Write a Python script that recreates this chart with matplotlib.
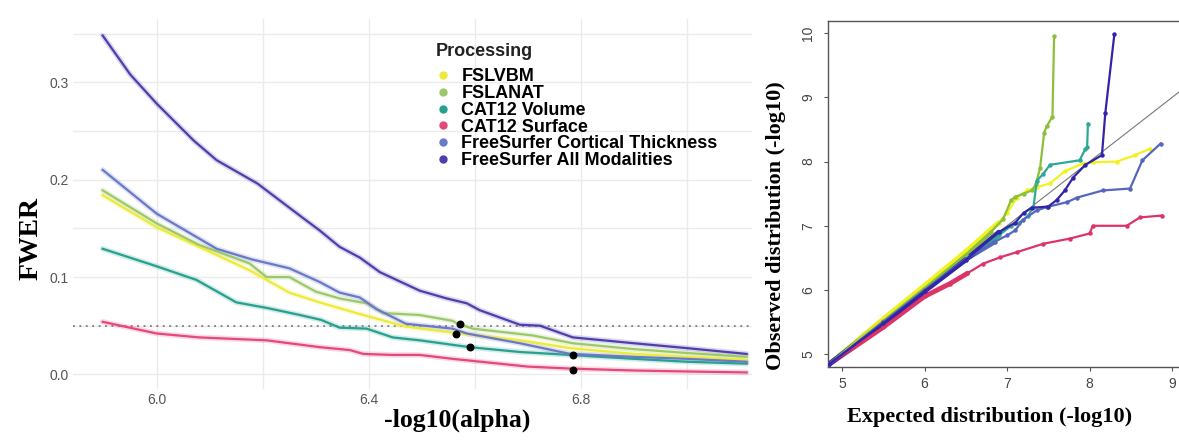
import matplotlib
matplotlib.use("Agg")
import matplotlib.pyplot as plt
from matplotlib.lines import Line2D

# ---------------- data: left panel (FWER vs -log10(alpha)) ----------------
names = ["FSLVBM", "FSLANAT", "CAT12 Volume", "CAT12 Surface",
         "FreeSurfer Cortical Thickness", "FreeSurfer All Modalities"]
colors = ["#ECEA3A", "#9CC86A", "#26A08F", "#E4487C", "#6A78C8", "#4E3EAC"]

vbm_x = [5.898, 6.0, 6.08, 6.175, 6.25, 6.307, 6.345, 6.383, 6.47, 6.558, 6.685, 6.78, 6.9, 7.0, 7.113]
vbm_y = [0.184, 0.151, 0.131, 0.107, 0.084, 0.074, 0.068, 0.062, 0.049, 0.043, 0.035, 0.027, 0.021, 0.018, 0.015]

anat_x = [5.898, 6.0, 6.08, 6.175, 6.207, 6.25, 6.30, 6.345, 6.396, 6.427, 6.496, 6.558, 6.568, 6.596, 6.709, 6.785, 6.9, 7.0, 7.113]
anat_y = [0.189, 0.155, 0.133, 0.114, 0.100, 0.100, 0.085, 0.078, 0.073, 0.063, 0.061, 0.055, 0.052, 0.047, 0.040, 0.032, 0.026, 0.022, 0.018]

vol_x = [5.898, 6.0, 6.075, 6.15, 6.21, 6.27, 6.31, 6.345, 6.396, 6.445, 6.496, 6.59, 6.685, 6.78, 6.9, 7.0, 7.113]
vol_y = [0.129, 0.111, 0.097, 0.074, 0.068, 0.061, 0.056, 0.048, 0.047, 0.038, 0.035, 0.028, 0.023, 0.020, 0.016, 0.013, 0.011]

surf_x = [5.898, 6.0, 6.08, 6.207, 6.307, 6.364, 6.39, 6.445, 6.496, 6.558, 6.70, 6.78, 6.9, 7.0, 7.113]
surf_y = [0.054, 0.042, 0.038, 0.035, 0.028, 0.025, 0.021, 0.020, 0.020, 0.016, 0.008, 0.006, 0.004, 0.003, 0.002]

ct_x = [5.898, 6.0, 6.113, 6.18, 6.25, 6.307, 6.345, 6.383, 6.415, 6.47, 6.558, 6.585, 6.685, 6.78, 6.9, 7.0, 7.113]
ct_y = [0.210, 0.165, 0.129, 0.118, 0.109, 0.095, 0.084, 0.079, 0.067, 0.052, 0.047, 0.042, 0.032, 0.021, 0.018, 0.016, 0.013]

all_x = [5.898, 5.95, 6.0, 6.07, 6.113, 6.19, 6.275, 6.307, 6.345, 6.383, 6.421, 6.496, 6.547, 6.585, 6.609, 6.685, 6.723, 6.785, 6.9, 7.0, 7.113]
all_y = [0.348, 0.308, 0.278, 0.240, 0.220, 0.196, 0.161, 0.148, 0.131, 0.120, 0.105, 0.086, 0.078, 0.073, 0.066, 0.051, 0.050, 0.038, 0.032, 0.027, 0.021]

# points where FWER crosses the threshold
cross_x = [6.572, 6.564, 6.591, 6.785, 6.785]
cross_y = [0.052, 0.042, 0.028, 0.020, 0.005]
threshold = 0.05

# ---------------- data: right panel (QQ plot) ----------------
q_vbm_x = [4.84, 5.5, 6.0, 6.5, 6.9, 7.0, 7.12, 7.24, 7.36, 7.52, 7.7, 7.92, 8.04, 8.33, 8.55, 8.73]
q_vbm_y = [4.84, 5.55, 6.07, 6.6, 7.05, 7.2, 7.44, 7.55, 7.6, 7.66, 7.85, 7.97, 7.99, 8.0, 8.1, 8.2]

q_anat_x = [4.84, 5.5, 6.0, 6.5, 6.8, 6.95, 7.05, 7.1, 7.2, 7.3, 7.35, 7.4, 7.45, 7.48, 7.55, 7.57]
q_anat_y = [4.84, 5.52, 6.03, 6.55, 6.9, 7.1, 7.4, 7.45, 7.5, 7.55, 7.65, 7.9, 8.45, 8.55, 8.7, 9.95]

q_vol_x = [4.84, 5.5, 6.0, 6.5, 6.9, 7.05, 7.15, 7.25, 7.32, 7.36, 7.44, 7.52, 7.88, 7.95, 7.97, 7.98]
q_vol_y = [4.84, 5.5, 6.0, 6.48, 6.85, 7.0, 7.05, 7.15, 7.29, 7.70, 7.81, 7.95, 8.02, 8.2, 8.22, 8.59]

q_surf_x = [4.84, 5.5, 6.0, 6.31, 6.52, 6.71, 6.92, 7.12, 7.44, 7.76, 8.0, 8.04, 8.45, 8.61, 8.88]
q_surf_y = [4.84, 5.42, 5.9, 6.10, 6.26, 6.41, 6.51, 6.59, 6.72, 6.80, 6.88, 7.0, 7.0, 7.13, 7.16]

q_ct_x = [4.84, 5.5, 6.0, 6.5, 6.85, 7.0, 7.10, 7.19, 7.36, 7.48, 7.73, 7.85, 8.16, 8.49, 8.64, 8.86]
q_ct_y = [4.84, 5.5, 6.0, 6.48, 6.75, 6.85, 6.93, 7.09, 7.24, 7.29, 7.37, 7.44, 7.55, 7.58, 8.02, 8.28]

q_all_x = [4.84, 5.5, 6.0, 6.5, 6.9, 7.1, 7.2, 7.3, 7.5, 7.6, 7.7, 7.8, 7.95, 8.15, 8.19, 8.30]
q_all_y = [4.84, 5.48, 5.98, 6.47, 6.9, 7.05, 7.2, 7.28, 7.3, 7.4, 7.55, 7.75, 7.95, 8.1, 8.75, 9.98]

q_colors = ["#F2F21E", "#8CBF3A", "#2FA896", "#DD3468", "#5566BE", "#3424A8"]
dense_until = 6.5   # below this the QQ points pile up into a thick band

left_series = [(vbm_x, vbm_y), (anat_x, anat_y), (vol_x, vol_y),
               (surf_x, surf_y), (ct_x, ct_y), (all_x, all_y)]
right_series = [(q_vbm_x, q_vbm_y), (q_anat_x, q_anat_y), (q_vol_x, q_vol_y),
                (q_surf_x, q_surf_y), (q_ct_x, q_ct_y), (q_all_x, q_all_y)]

serif = "Liberation Serif"
sans = "Liberation Sans"

W, H = 1179, 441
fig = plt.figure(figsize=(W / 100, H / 100), dpi=100)

# ---------------- left panel ----------------
ax = fig.add_axes([73 / W, 1 - 389 / H, (752 - 73) / W, (389 - 19) / H])
ax.set_xlim(5.842, 7.123)
ax.set_ylim(-0.015, 0.365)
for s in ax.spines.values():
    s.set_visible(False)
ax.set_xticks([6.0, 6.4, 6.8])
ax.set_xticks([6.2, 6.6, 7.0], minor=True)
ax.set_yticks([0.0, 0.1, 0.2, 0.3])
ax.set_yticks([0.05, 0.15, 0.25, 0.35], minor=True)
ax.set_xticklabels(["6.0", "6.4", "6.8"])
ax.set_yticklabels(["0.0", "0.1", "0.2", "0.3"])
ax.grid(True, which="both", color="#EBEBEB", lw=1.0)
ax.set_axisbelow(True)
ax.tick_params(which="both", length=0, labelsize=10, labelcolor="#555555", pad=3)
for lab in ax.get_xticklabels() + ax.get_yticklabels():
    lab.set_fontfamily(sans)

ax.axhline(threshold, color="#666666", lw=1.1, ls=(0, (1.2, 3.0)), zorder=1)

for (xs, ys), c in zip(left_series, colors):
    ax.plot(xs, ys, color=c, lw=4.0, alpha=0.2, solid_capstyle="round", zorder=2)
    ax.plot(xs, ys, color=c, lw=1.6, zorder=3)

ax.scatter(cross_x, cross_y, s=22, color="black", zorder=5)

ax.set_ylabel("FWER", fontfamily=serif, fontweight="bold", fontsize=20)
ax.yaxis.set_label_coords(-0.044, 0.408)
ax.set_xlabel("-log10(alpha)", fontfamily=serif, fontweight="bold", fontsize=18.5)
ax.xaxis.set_label_coords(0.566, -0.052)

handles = [Line2D([], [], ls="none", marker="o", ms=5, color=c) for c in colors]
leg = ax.legend(handles, names, title="Processing", loc="upper left",
                bbox_to_anchor=(0.524, 0.955), frameon=False,
                prop={"family": sans, "weight": "bold", "size": 13},
                labelspacing=-0.01, handlelength=0.8, handletextpad=0.6,
                borderaxespad=0, alignment="left")
leg.get_title().set_fontfamily(sans)
leg.get_title().set_fontweight("bold")
leg.get_title().set_fontsize(13)
leg.get_title().set_color("#222222")
leg._legend_box.sep = 6

# ---------------- right panel ----------------
ax2 = fig.add_axes([828 / W, 1 - 367 / H, (1182 - 828) / W, (367 - 21) / H])
ax2.set_xlim(4.83, 9.12)
ax2.set_ylim(4.80, 10.19)
ax2.spines["right"].set_visible(False)
for s in ["left", "top", "bottom"]:
    ax2.spines[s].set_color("#555555")
    ax2.spines[s].set_linewidth(1.0)
ax2.plot([4.8, 9.2], [4.8, 9.2], color="#777777", lw=0.8, zorder=1)
for (xs, ys), c in zip(right_series, q_colors):
    k = sum(1 for v in xs if v <= dense_until)
    ax2.plot(xs[:k + 1], ys[:k + 1], color=c, lw=3.5, solid_capstyle="round", zorder=2)
    ax2.plot(xs, ys, color=c, lw=1.6, marker="o", ms=2.2, zorder=3)
ax2.set_xticks([5, 6, 7, 8, 9])
ax2.set_yticks([5, 6, 7, 8, 9, 10])
ax2.tick_params(labelsize=10, labelcolor="#444444", length=3, color="#555555", pad=4)
ax2.tick_params(axis="y", pad=6)
for lab in ax2.get_yticklabels():
    lab.set_rotation(90)
    lab.set_va("center")
for lab in ax2.get_xticklabels() + ax2.get_yticklabels():
    lab.set_fontfamily(sans)
ax2.set_xlabel("Expected distribution (-log10)", fontfamily=serif, fontweight="bold", fontsize=16)
ax2.xaxis.set_label_coords(0.457, -0.115)
ax2.set_ylabel("Observed distribution (-log10)", fontfamily=serif, fontweight="bold", fontsize=16)
ax2.yaxis.set_label_coords(-0.12, 0.41)

fig.savefig("out.png", dpi=100)
